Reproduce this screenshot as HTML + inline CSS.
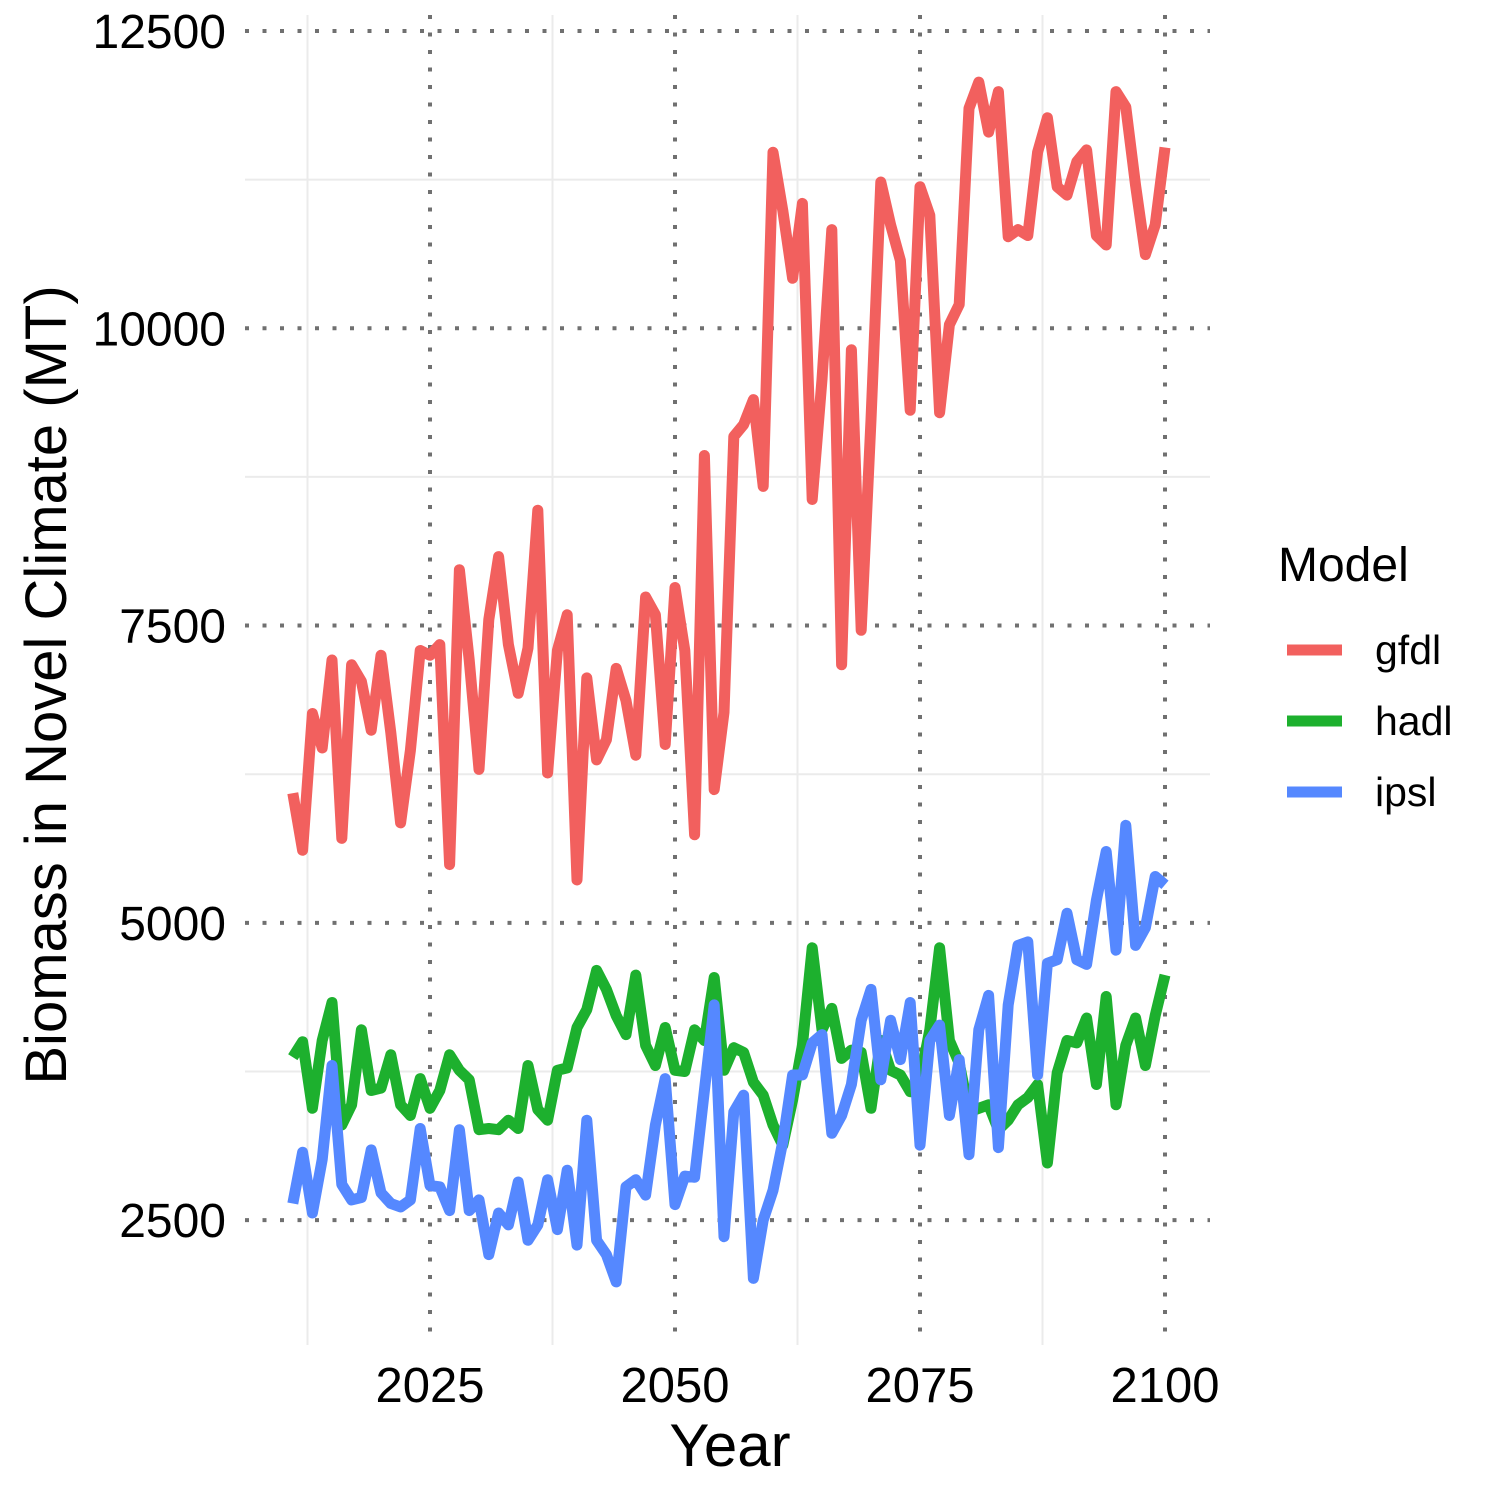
<!DOCTYPE html>
<html><head><meta charset="utf-8"><style>
html,body{margin:0;padding:0;background:#fff;}
svg text{font-family:"Liberation Sans",Arial,sans-serif;fill:#000;}
</style></head><body>
<svg id="chart" width="1500" height="1500" viewBox="0 0 1500 1500" xmlns="http://www.w3.org/2000/svg">
<g id="grid"></g>
<g id="series"></g>
<g id="axes"></g>
<text x="730" y="1466" font-size="60" text-anchor="middle">Year</text>
<text transform="translate(66,685) rotate(-90)" font-size="58" text-anchor="middle">Biomass in Novel Climate (MT)</text>
<g>
<text x="1278" y="581" font-size="48">Model</text>
<g id="legend-entries"></g>
</g>
</svg>
<script>
const years = [];
for (let y = 2011; y <= 2100; y++) years.push(y);
const gfdl = [6090,5610,6760,6470,7210,5710,7170,7030,6620,7250,6600,5840,6450,7290,7250,7340,5490,7970,7210,6290,7550,8080,7340,6930,7310,8470,6260,7290,7590,5360,7060,6370,6540,7140,6870,6410,7740,7590,6500,7820,7290,5740,8930,6120,6770,9090,9190,9400,8670,11480,10990,10420,11050,8560,9570,10830,7170,9820,7460,9230,11230,10870,10570,9310,11190,10950,9290,10030,10200,11850,12070,11650,11990,10770,10830,10780,11480,11770,11190,11120,11400,11500,10780,10700,11990,11860,11200,10620,10870,11520];
const hadl = [3870,4000,3440,4010,4330,3300,3470,4100,3590,3610,3890,3470,3380,3690,3440,3590,3890,3760,3680,3260,3270,3260,3340,3270,3800,3430,3340,3760,3780,4120,4270,4600,4440,4220,4060,4560,3970,3800,4120,3760,3750,4100,4010,4540,3760,3950,3910,3660,3550,3300,3130,3510,3970,4790,4100,4280,3860,3930,3910,3440,4010,3760,3720,3580,3680,4100,4790,4010,3820,3410,3440,3470,3260,3340,3470,3530,3640,2980,3740,4010,3990,4200,3640,4380,3470,3970,4200,3800,4220,4560];
const ipsl = [2640,3070,2560,3010,3800,2800,2670,2690,3090,2730,2640,2610,2670,3270,2790,2780,2580,3260,2580,2670,2210,2560,2460,2820,2330,2460,2840,2420,2920,2290,3340,2330,2210,1980,2780,2840,2710,3300,3690,2630,2870,2860,3590,4310,2360,3410,3550,2010,2500,2750,3160,3720,3720,3990,4060,3230,3380,3640,4180,4440,3680,4180,3850,4330,3130,4010,4140,3380,3850,3050,4100,4390,3110,4310,4810,4840,3720,4660,4690,5080,4690,4650,5190,5600,4770,5820,4810,4960,5390,5320];
const seriesNames = ["gfdl","hadl","ipsl"];
const seriesColors = ["#F2605E","#1DB02E","#5588FF"];
const yTicks = [2500,5000,7500,10000,12500];
const yMinor = [3750,6250,8750,11250];
const xTicks = [2025,2050,2075,2100];
const xMinor = [2012.5,2037.5,2062.5,2087.5];

const X0 = 245, X1 = 1210, Y0 = 15, Y1 = 1345;
const xs = v => 430 + (v - 2025) * 9.8;
const ys = v => 31 + (12500 - v) * 0.11891;
const NS = "http://www.w3.org/2000/svg";
function mk(tag, attrs, parent) {
  const e = document.createElementNS(NS, tag);
  for (const k in attrs) e.setAttribute(k, attrs[k]);
  parent.appendChild(e);
  return e;
}
const grid = document.getElementById("grid");
yMinor.forEach(v => {
  const l = mk("line", {x1:X0, x2:X1, y1:ys(v), y2:ys(v), stroke:"#ebebeb", "stroke-width":2}, grid);
  
  
});
xMinor.forEach(v => {
  const l = mk("line", {x1:xs(v), x2:xs(v), y1:Y0, y2:Y1, stroke:"#ebebeb", "stroke-width":2}, grid);
  
  
});
yTicks.forEach(v => {
  const l = mk("line", {x1:X0, x2:X1, y1:ys(v), y2:ys(v), stroke:"#707070", "stroke-width":4, "stroke-dasharray":"4 13.5"}, grid);
  
  
});
xTicks.forEach(v => {
  const l = mk("line", {x1:xs(v), x2:xs(v), y1:Y0, y2:Y1, stroke:"#707070", "stroke-width":4, "stroke-dasharray":"4 13.5"}, grid);
  
  
});
const ser = document.getElementById("series");
[gfdl, hadl, ipsl].forEach((arr, i) => {
  const d = arr.map((v, j) => (j ? "L" : "M") + xs(years[j]).toFixed(1) + " " + ys(v).toFixed(1)).join(" ");
  const p = mk("path", {d:d, fill:"none", stroke:seriesColors[i], "stroke-width":11, "stroke-linejoin":"round"}, ser);
  
  
});
const axes = document.getElementById("axes");
yTicks.forEach(v => {
  const t = mk("text", {x:226, y:ys(v) + 17, "font-size":48, "text-anchor":"end"}, axes);
  t.textContent = v;
  
  
});
xTicks.forEach(v => {
  const t = mk("text", {x:xs(v), y:1402, "font-size":49, "text-anchor":"middle"}, axes);
  t.textContent = v;
  
  
});
const leg = document.getElementById("legend-entries");
seriesNames.forEach((n, i) => {
  const yy = 650 + i * 71;
  const l = mk("line", {x1:1287, x2:1342, y1:yy, y2:yy, stroke:seriesColors[i], "stroke-width":11}, leg);
  
  
  const t = mk("text", {x:1375, y:yy + 14, "font-size":41}, leg);
  t.textContent = n;
  
  
});
</script>
</body></html>
